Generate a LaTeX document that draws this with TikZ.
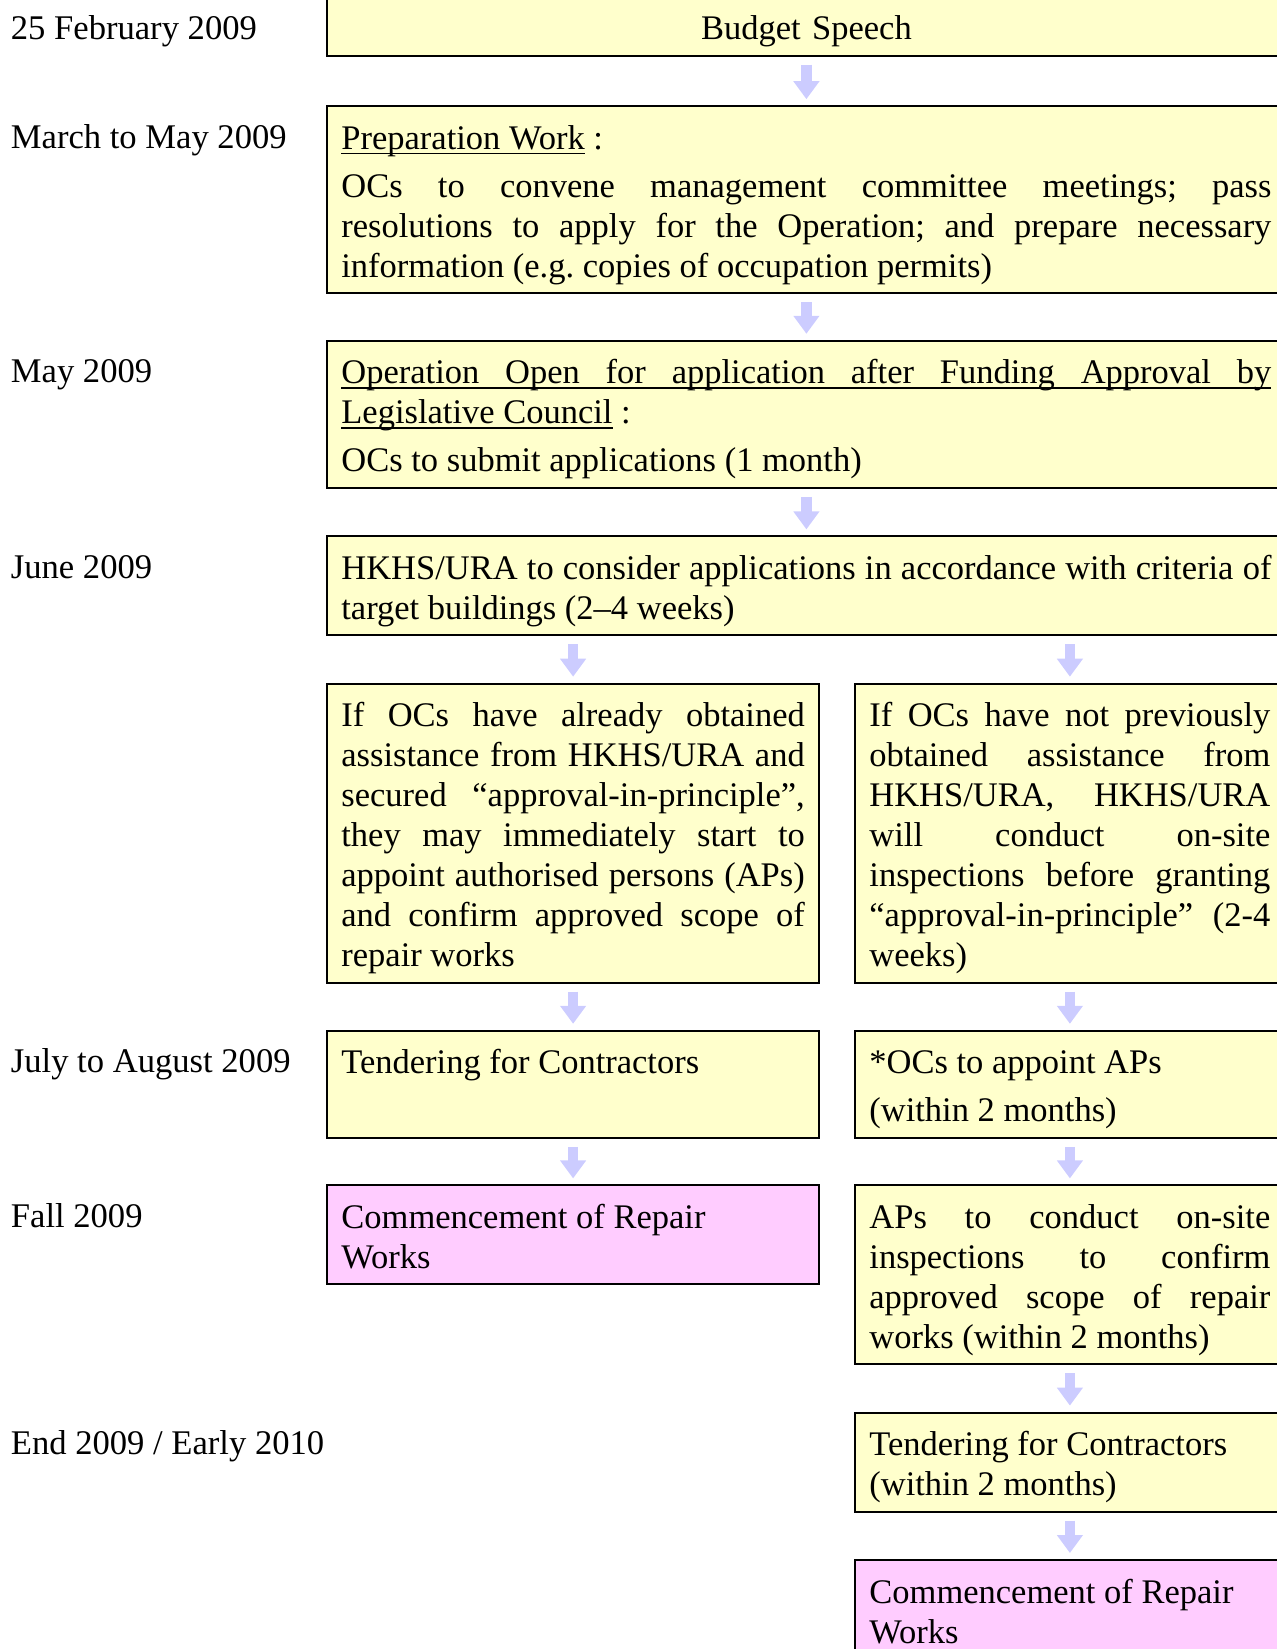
\documentclass[tikz,border=0pt]{standalone}
\usepackage{fontspec}
\setmainfont{Liberation Serif}
\usetikzlibrary{arrows.meta}

\definecolor{boxyellow}{HTML}{FFFFCC}
\definecolor{boxpink}{HTML}{FFCCFF}
\definecolor{arrowblue}{HTML}{CCCCFF}
% paragraph set-up at the top and bottom of every box
\newcommand{\boxstart}{\parskip=4pt\relax\frenchspacing\tolerance=10000
  \hyphenpenalty=10000\exhyphenpenalty=10000\rule{0pt}{19.5pt}}
\newcommand{\boxend}{\strut\par}
% underlined word and underlined (stretchable) space
\newcommand{\ulword}[1]{\setbox0\hbox{#1}\rlap{\rule[-2.4pt]{\wd0}{0.7pt}}\box0\relax}
\newcommand{\ulsp}{\leaders\hrule height -1.7pt depth 2.4pt
  \hskip\fontdimen2\font plus\fontdimen3\font minus\fontdimen4\font\relax}

\begin{document}
\begin{tikzpicture}[
  x=0.5pt, y=-0.5pt,
  every node/.style={font=\fontsize{17.3pt}{20pt}\selectfont},
  stagebox/.style={
    draw,
    line width=1pt,
    fill=boxyellow,
    anchor=north west,
    inner xsep=7.2pt,
    inner ysep=2pt,
    align=justify,
    font=\fontsize{17.25pt}{20pt}\selectfont,
    text width=#1
    },
  mainbox/.style={stagebox=465pt},
  leftbox/.style={stagebox=231.7pt},
  rightbox/.style={stagebox=200.5pt},
  datelabel/.style={anchor=base west, inner sep=0pt},
  flowarrow/.style={
    draw=arrowblue,
    line width=5.25pt,
    -{Triangle[width=12.5pt,length=9pt]},
    shorten <=4pt,
    shorten >=3pt
  }
]
\useasboundingbox (0,0) rectangle (1277,1649);
\clip (0,0) rectangle (1277,1649);

% dates
\node [datelabel] (d1) at (10.5,39.8) {25 February 2009};
\node [datelabel] (d2) at (10.5,148.2) {March to May 2009};
\node [datelabel] (d3) at (10.5,382.8) {May 2009};
\node [datelabel] (d4) at (10.5,578.4) {June 2009};
\node [datelabel] (d5) at (10.5,1072.8) {July to August 2009};
\node [datelabel] (d6) at (10.5,1227.4) {Fall 2009};
\node [datelabel] (d7) at (10.5,1454.6) {End 2009 / Early 2010};

% full width stages
\node [mainbox, anchor=south west, align=center] (b1) at (326,56.5) {\boxstart Budget Speech\boxend};
\node [mainbox] (b2) at (326,105.2) {\boxstart\ulword{Preparation}\ulsp\ulword{Work} :\par
  OCs to convene management committee meetings; pass\linebreak
  resolutions to apply for the Operation; and prepare necessary\linebreak
  information (e.g. copies of occupation permits)\boxend};
\node [mainbox] (b3) at (326,339.8) {\boxstart\ulword{Operation}\ulsp\ulword{Open}\ulsp\ulword{for}\ulsp
  \ulword{application}\ulsp\ulword{after}\ulsp\ulword{Funding}\ulsp\ulword{Approval}\ulsp\ulword{by}\linebreak
  \ulword{Legislative}\ulsp\ulword{Council} :\par
  OCs to submit applications (1 month)\boxend};
\node [mainbox] (b4) at (326,535.4) {\boxstart HKHS/URA to consider applications in accordance with criteria of\linebreak
  target buildings (2–4 weeks)\boxend};

% left branch
\node [leftbox] (b5l) at (326,682.7) {\boxstart If OCs have already obtained\linebreak
  assistance from HKHS/URA and\linebreak
  secured “approval-in-principle”,\linebreak
  they may immediately start to\linebreak
  appoint authorised persons (APs)\linebreak
  and confirm approved scope of\linebreak
  repair works\boxend};
\node [leftbox] (b6l) at (326,1029.8) {\boxstart Tendering for Contractors\par\boxend};
\node [leftbox, fill=boxpink] (b7l) at (326,1184.4) {\boxstart Commencement of Repair\newline Works\boxend};

% right branch
\node [rightbox] (b5r) at (854,682.7) {\boxstart If OCs have not previously\linebreak
  obtained assistance from\linebreak
  HKHS/URA, HKHS/URA\linebreak
  will conduct on-site\linebreak
  inspections before granting\linebreak
  “approval-in-principle” (2-4\linebreak
  weeks)\boxend};
\node [rightbox] (b6r) at (854,1029.8) {\boxstart *OCs to appoint APs\par(within 2 months)\boxend};
\node [rightbox] (b7r) at (854,1184.4) {\boxstart APs to conduct on-site\linebreak
  inspections to confirm\linebreak
  approved scope of repair\linebreak
  works (within 2 months)\boxend};
\node [rightbox] (b8r) at (854,1411.6) {\boxstart Tendering for Contractors\newline (within 2 months)\boxend};
\node [rightbox, fill=boxpink] (b9r) at (854,1559) {\boxstart Commencement of Repair\newline Works\boxend};

% arrows
\foreach \a/\b in {b1/b2, b2/b3, b3/b4, b5l/b6l, b6l/b7l, b5r/b6r, b6r/b7r, b7r/b8r, b8r/b9r}
    \draw [flowarrow] (\a) -- (\b);
\draw [flowarrow] (b4.south -| b5l.north) -- (b5l.north);
\draw [flowarrow] (b4.south -| b5r.north) -- (b5r.north);
\end{tikzpicture}
\end{document}
